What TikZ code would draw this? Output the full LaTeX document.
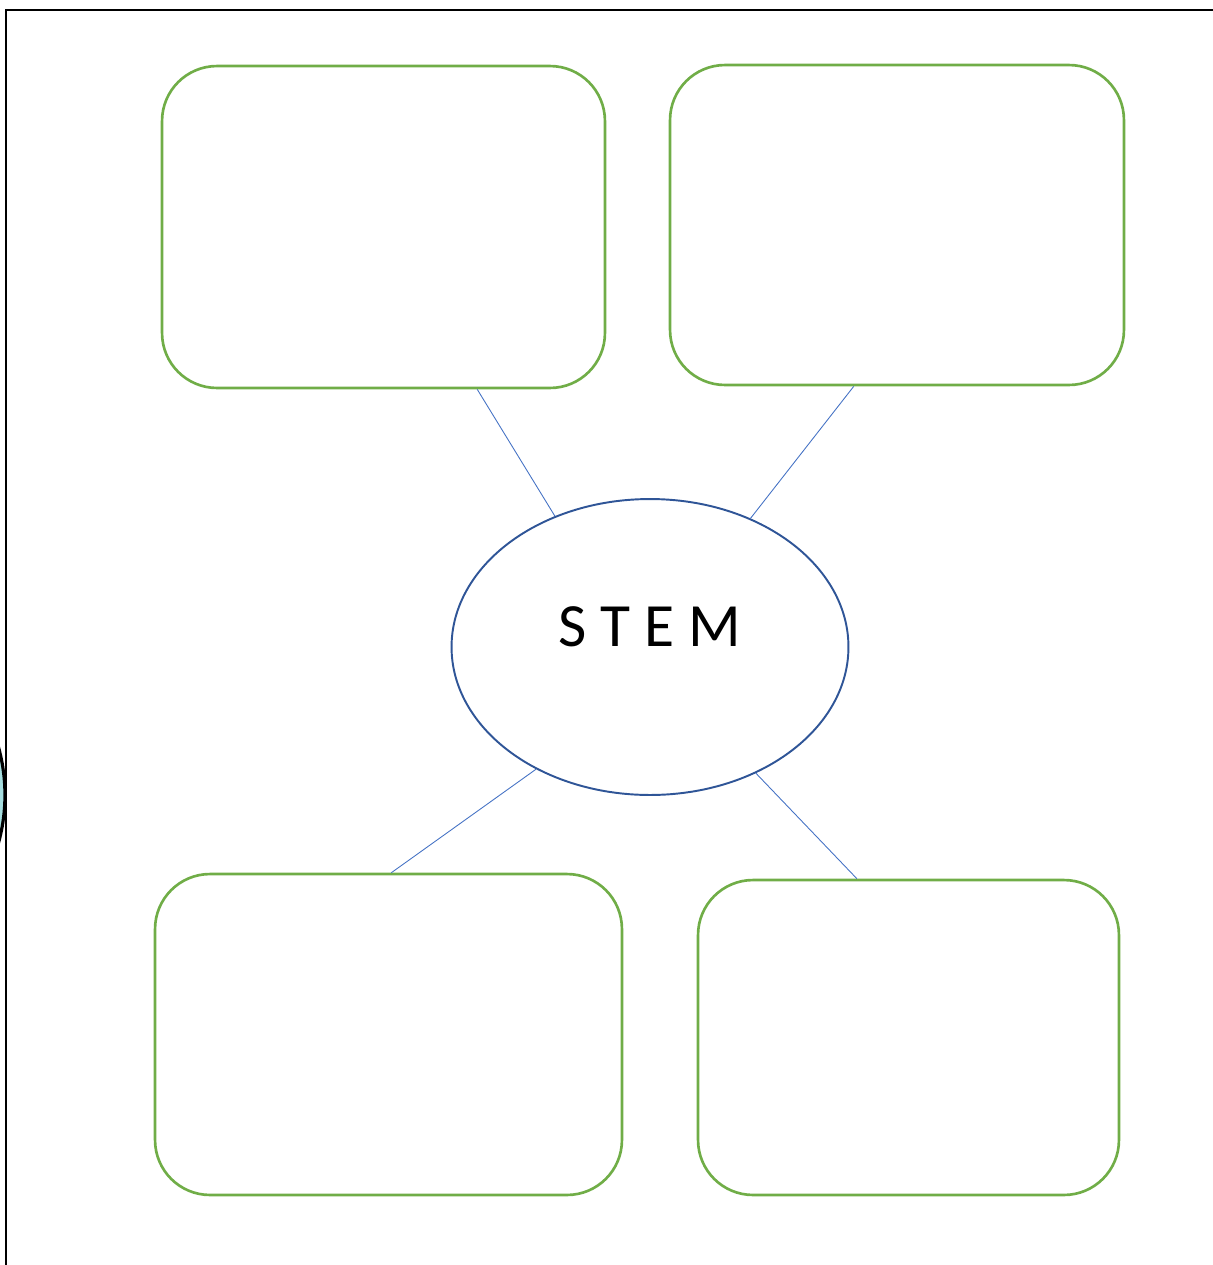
\documentclass[tikz,border=0pt]{standalone}
\usepackage{fontspec}
\setmainfont{Carlito}
\usetikzlibrary{shapes.geometric}

\definecolor{boxgreen}{HTML}{70AD47}
\definecolor{ovalblue}{HTML}{2F5597}
\definecolor{linkblue}{HTML}{4472C4}
\definecolor{blobcyan}{HTML}{A6DEE0}

\tikzset{
  topic/.style={draw=boxgreen, line width=1.5pt, rounded corners=1.1cm, inner sep=0pt},
  link/.style={draw=linkblue, line width=0.5pt}
}

\begin{document}
\begin{tikzpicture}[x=0.02cm, y=-0.02cm]
    \useasboundingbox (0,0) rectangle (1213,1265);
    % bit of a shape cut off at the left edge
    \begin{scope}
        \clip (0,0) rectangle (1213,1265);
        \draw[line width=1.8pt, fill=blobcyan] (-174,795) circle [radius=3.58cm];
    \end{scope}
    \draw[line width=1.1pt] (6,1265) -- (6,10) -- (1213,10);
    % four boxes round the centre
    \node[topic, minimum width=8.86cm, minimum height=6.44cm] (tl) at (383.5,227) {};
    \node[topic, minimum width=9.08cm, minimum height=6.40cm] (tr) at (897,225) {};
    \node[topic, minimum width=9.34cm, minimum height=6.42cm] (bl) at (388.5,1034.5) {};
    \node[topic, minimum width=8.42cm, minimum height=6.30cm] (br) at (908.5,1037.5) {};
    \node[ellipse, draw=ovalblue, line width=1.1pt, minimum width=7.94cm, minimum height=5.92cm, inner sep=0pt] (stem) at (650,647) {};
    \node[font=\fontsize{35}{40}\selectfont] (stemtext) at (650,627) {S T E M};
    \draw[link] (stem.126.6) -- (tl.-60.3);
    \draw[link] (stem.52.5) -- (tr.-105.4);
    \draw[link] (stem.-133.3) -- (bl.89.1);
    \draw[link] (stem.-50.7) -- (br.108.1);
\end{tikzpicture}
\end{document}
